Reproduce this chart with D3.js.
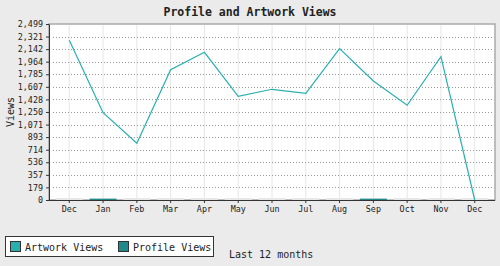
<!doctype html>
<html lang="en">
<head>
<meta charset="UTF-8">
<script src="https://cdn.jsdelivr.net/npm/d3@7"></script>
<style>
  body { margin: 0; background: #ebebeb; }
  svg { display: block; }
  .title { font: bold 11.5px "DejaVu Sans Mono", monospace; fill: #222; }
  .axis text { font: 8.4px "DejaVu Sans Mono", monospace; fill: #222; }
  .axis path, .axis line { stroke: #333; }
  .label { font: 10px "DejaVu Sans Mono", monospace; fill: #222; }
</style>
</head>
<body>
<svg id="chart" width="500" height="266"></svg>
<script>
// data
let months = ["Dec", "Jan", "Feb", "Mar", "Apr", "May", "Jun", "Jul", "Aug", "Sep", "Oct", "Nov", "Dec "];
let artworkViews = [2268, 1240, 805, 1850, 2097, 1472, 1572, 1515, 2149, 1690, 1345, 2035, 0];
let profileViews = [0, 18, 0, 0, 0, 0, 0, 0, 0, 18, 0, 0, 0];
let yTicks = [0, 179, 357, 536, 714, 893, 1071, 1250, 1428, 1607, 1785, 1964, 2142, 2321, 2499];

let svg = d3.select("#chart");
let plotL = 49, plotR = 495, plotT = 24, plotB = 200;

let x = d3.scaleBand().domain(months).range([plotL, plotR]).padding(0.2);
let xc = function(d) { return x(d) + x.bandwidth() / 2; };
let y = d3.scaleLinear().domain([0, 2499]).range([plotB, plotT]);

// plot background + border
svg.append("rect")
  .attr("x", plotL).attr("y", plotT)
  .attr("width", plotR - plotL).attr("height", plotB - plotT)
  .attr("fill", "#fff").attr("stroke", "#aaa").attr("stroke-width", 1.5);

// vertical grid
svg.append("g").selectAll("line")
  .data(months).enter().append("line")
  .attr("x1", xc).attr("x2", xc)
  .attr("y1", plotT + 1).attr("y2", plotB)
  .attr("stroke", "#e6e6e6").attr("stroke-width", 1);

// horizontal dotted grid
svg.append("g").selectAll("line")
  .data(yTicks.slice(1, -1)).enter().append("line")
  .attr("x1", plotL + 4).attr("x2", plotR - 1)
  .attr("y1", function(d) { return Math.round(y(d)) + 0.5; })
  .attr("y2", function(d) { return Math.round(y(d)) + 0.5; })
  .attr("stroke", "#999").attr("stroke-dasharray", "1,2");

// light bar shadows
svg.append("g").selectAll("rect")
  .data(months).enter().append("rect")
  .attr("x", function(d) { return x(d); })
  .attr("y", plotB - 2)
  .attr("width", x.bandwidth()).attr("height", 2)
  .attr("fill", "#e8e8e8");

// profile views bars
svg.append("g").selectAll("rect")
  .data(profileViews).enter().append("rect")
  .attr("x", function(d, i) { return x(months[i]); })
  .attr("y", function(d) { return y(d); })
  .attr("width", x.bandwidth())
  .attr("height", function(d) { return plotB - y(d); })
  .attr("fill", "#1e8a8a");

// artwork views line
let line = d3.line()
  .x(function(d, i) { return xc(months[i]); })
  .y(function(d) { return y(d); });
svg.append("path")
  .datum(artworkViews)
  .attr("d", line)
  .attr("fill", "none")
  .attr("stroke", "#2aafaf")
  .attr("stroke-width", 1.2);

// axes
svg.append("g")
  .attr("class", "axis")
  .attr("transform", "translate(" + plotL + ",0)")
  .call(d3.axisLeft(y).tickValues(yTicks).tickSize(3).tickSizeOuter(0)
    .tickFormat(d3.format(",")));

svg.append("g")
  .attr("class", "axis")
  .attr("transform", "translate(0," + plotB + ")")
  .call(d3.axisBottom(x).tickSize(3).tickSizeOuter(0)
    .tickFormat(function(d) { return d.trim(); }))
  .call(function(g) { g.select(".domain").attr("d", "M" + plotL + ",0.5H" + plotR); });

// title and labels
svg.append("text").attr("class", "title")
  .attr("x", 250).attr("y", 16).attr("text-anchor", "middle")
  .text("Profile and Artwork Views");

svg.append("text").attr("class", "label")
  .attr("transform", "translate(14,112) rotate(-90)")
  .attr("text-anchor", "middle")
  .text("Views");

svg.append("text").attr("class", "label")
  .attr("x", 229).attr("y", 258)
  .text("Last 12 months");

// legend
let legend = svg.append("g");
legend.append("rect")
  .attr("x", 5.5).attr("y", 236.5).attr("width", 208).attr("height", 20)
  .attr("fill", "#fff").attr("stroke", "#333").attr("stroke-width", 1);
let items = [["Artwork Views", "#2aafaf", 10], ["Profile Views", "#1e8a8a", 118]];
items.forEach(function(it) {
  legend.append("rect")
    .attr("x", it[2] + 0.5).attr("y", 241.5).attr("width", 10).attr("height", 10)
    .attr("fill", it[1]).attr("stroke", "#333");
  legend.append("text").attr("class", "label")
    .attr("x", it[2] + 15).attr("y", 250.5)
    .text(it[0]);
});
</script>
</body>
</html>
